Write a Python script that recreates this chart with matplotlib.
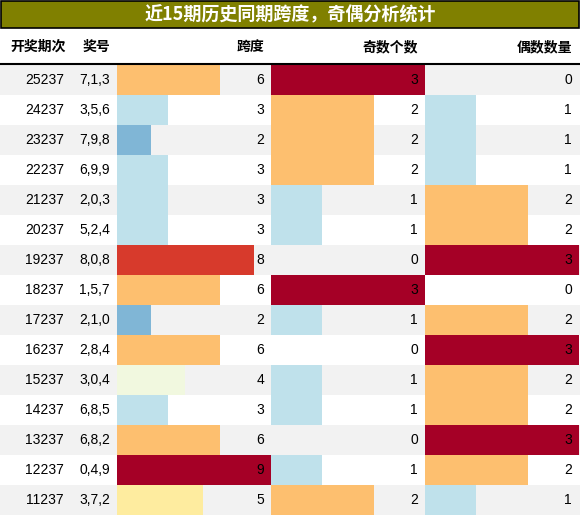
import matplotlib.pyplot as plt
from matplotlib.patches import Rectangle

plt.rcParams['font.family'] = ['Noto Sans CJK SC', 'DejaVu Sans']

periods = ['25237', '24237', '23237', '22237', '21237', '20237', '19237', '18237',
           '17237', '16237', '15237', '14237', '13237', '12237', '11237']
numbers = ['7,1,3', '3,5,6', '7,9,8', '6,9,9', '2,0,3', '5,2,4', '8,0,8', '1,5,7',
           '2,1,0', '2,8,4', '3,0,4', '6,8,5', '6,8,2', '0,4,9', '3,7,2']
span = [6, 3, 2, 3, 3, 3, 8, 6, 2, 6, 4, 3, 6, 9, 5]
odd = [3, 2, 2, 2, 1, 1, 0, 3, 1, 0, 1, 1, 0, 1, 2]
even = [0, 1, 1, 1, 2, 2, 3, 0, 2, 3, 2, 2, 3, 2, 1]

span_colors = {2: '#80b6d6', 3: '#bfe1eb', 4: '#f1f8df', 5: '#feec9f', 6: '#fdbf6f',
               8: '#d73a2c', 9: '#a50026'}
cnt_colors = {1: '#bfe1eb', 2: '#fdbf6f', 3: '#a50026'}

W, H = 580, 516
fig = plt.figure(figsize=(W / 100, H / 100), dpi=100)
ax = fig.add_axes([0, 0, 1, 1])
ax.set_xlim(0, W)
ax.set_ylim(H, 0)
ax.axis('off')

# title bar
ax.add_patch(Rectangle((1, 1), W - 2, 27, facecolor='#808000', edgecolor='black', lw=1.2))
ax.text(W / 2, 15, '近15期历史同期跨度，奇偶分析统计', color='white', fontsize=13,
        fontweight='bold', ha='center', va='center')

# header
hy = 47
ax.text(38, hy, '开奖期次', ha='center', va='center', fontsize=10, fontweight='bold')
ax.text(96, hy, '奖号', ha='center', va='center', fontsize=10, fontweight='bold')
ax.text(264, hy, '跨度', ha='right', va='center', fontsize=10, fontweight='bold')
ax.text(418, hy, '奇数个数', ha='right', va='center', fontsize=10, fontweight='bold')
ax.text(572, hy, '偶数数量', ha='right', va='center', fontsize=10, fontweight='bold')
ax.plot([0, W], [64, 64], color='black', lw=1.5)

top, rh = 65, 30
cols = [(117, 271, 9, span, span_colors), (271, 425, 3, odd, cnt_colors),
        (425, 579, 3, even, cnt_colors)]
for i in range(len(periods)):
    y = top + i * rh
    if i % 2 == 0:
        ax.add_patch(Rectangle((0, y), W, rh, facecolor='#f2f2f2', lw=0))
    yc = y + rh / 2
    ax.text(64, yc, periods[i], ha='right', va='center', fontsize=10, family='Liberation Sans')
    ax.text(110, yc, numbers[i], ha='right', va='center', fontsize=10, family='Liberation Sans')
    for x0, x1, vmax, vals, cmap in cols:
        v = vals[i]
        if v in cmap:
            ax.add_patch(Rectangle((x0, y), (x1 - x0) * v / vmax, rh, facecolor=cmap[v], lw=0))
        ax.text(x1 - 7, yc, str(v), ha='right', va='center', fontsize=10,
                family='Liberation Sans')

fig.savefig('out.png', dpi=100)
